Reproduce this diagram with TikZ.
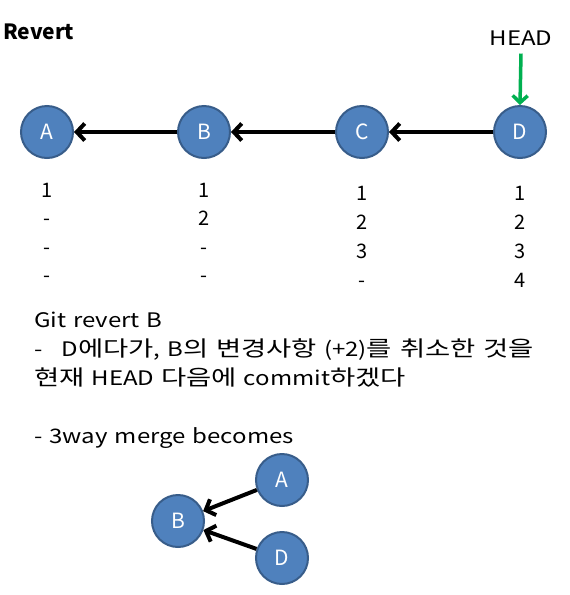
\documentclass[tikz,border=0pt]{standalone}
\usepackage{fontspec}
\setmainfont{Noto Sans CJK KR}
\newfontfamily\widefont[FakeStretch=1.2, WordSpace=1.3]{Noto Sans CJK KR}
\newfontfamily\kofont[FakeStretch=1.28, Scale=1.07, WordSpace=1.3]{Noto Sans CJK KR}
\newcommand{\ko}[1]{{\kofont #1}}
\usetikzlibrary{arrows.meta}
\definecolor{commitblue}{HTML}{4F81BD}
\definecolor{commitedge}{HTML}{385D8A}
\definecolor{headgreen}{HTML}{00B050}

\begin{document}
\begin{tikzpicture}[x=1pt, y=-1pt]
        \def\csize{52pt}
        \tikzstyle{commit} = [circle, draw=commitedge, fill=commitblue, line width=2pt, minimum size=\csize, inner sep=0pt, text=white, font=\fontsize{21}{25}\selectfont]
        \tikzstyle{num} = [anchor=base, inner sep=0pt, font=\fontsize{20}{24}\selectfont]
        \tikzstyle{line} = [anchor=base west, inner sep=0pt, font=\widefont\fontsize{20}{24}\selectfont]
        \tikzstyle{parent} = [line width=4pt, -{Straight Barb[length=8pt, width=17pt]}]
        \useasboundingbox (0,0) rectangle (570,595);
        % Draw the title
        \node[anchor=base west, inner sep=0pt, font=\fontsize{21}{25}\selectfont\bfseries] (title) at (3,39) {Revert};
        % Draw the four commits in a row
        \node[commit] (A) at (47,132) {A};
        \node[commit] (B) at (204,132) {B};
        \node[commit] (C) at (362,132) {C};
        \node[commit] (D) at (520,132) {D};
        % Draw the arrows pointing back to the parents
        \draw[parent] (B) -- (A);
        \draw[parent] (C) -- (B);
        \draw[parent] (D) -- (C);
        % Draw the HEAD label and its arrow
        \node[font=\widefont\fontsize{20}{24}\selectfont, inner sep=0pt] (head) at (521,38) {HEAD};
        \draw[parent, headgreen, line width=3.5pt, -{Straight Barb[length=7pt, width=15pt]}] (head.south) ++(0,8) coordinate (headtail) -- (D.north);
        % Draw the lines of each commit under it
        \foreach \v [count=\i] in {1,-,-,-} {
            \node[num] (numA\i) at (47, 197+28.5*\i-28.5) {\v};
        }
        \foreach \v [count=\i] in {1,2,-,-} {
            \node[num] (numB\i) at (204, 197+28.5*\i-28.5) {\v};
        }
        \foreach \v [count=\i] in {1,2,3,-} {
            \node[num] (numC\i) at (362, 200+29*\i-29) {\v};
        }
        \foreach \v [count=\i] in {1,2,3,4} {
            \node[num] (numD\i) at (520, 200+29*\i-29) {\v};
        }
        % Draw the explanation
        \node[line] (txt1) at (34,327) {Git revert B};
        \node[line] (txt2) at (34,356) {-\hspace{19pt}D\ko{에다가}, B\ko{의 변경사항} (+2)\ko{를 취소한 것을}};
        \node[line] (txt3) at (34,385) {\ko{현재} HEAD \ko{다음에} commit\ko{하겠다}};
        \node[line] (txt4) at (34,443) {- 3way merge becomes};
        % Draw the small 3way merge graph
        \node[commit] (mB) at (178,521) {B};
        \node[commit] (mA) at (282,480) {A};
        \node[commit] (mD) at (282,558) {D};
        \draw[parent] (mA) -- (mB);
        \draw[parent] (mD) -- (mB);
    \end{tikzpicture}
\end{document}
